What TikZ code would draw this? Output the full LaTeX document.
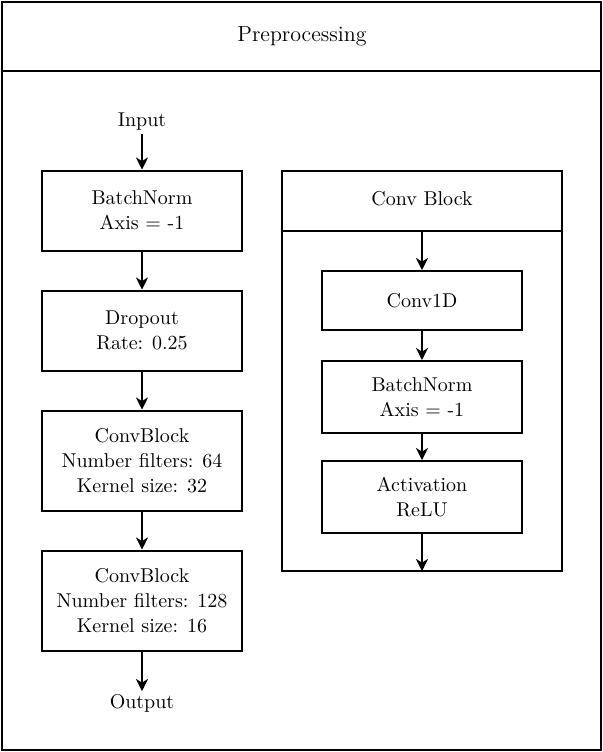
\documentclass[tikz,border=0pt]{standalone}
\usetikzlibrary{arrows.meta}

\begin{document}
\begin{tikzpicture}[x=0.5pt, y=-0.5pt, line width=1pt, >={Stealth[length=6pt,width=6pt,inset=1.8pt]},
    font=\fontsize{10}{12.5}\selectfont,
    block/.style={draw, align=center, minimum width=100pt, inner sep=0pt},
    label/.style={align=center, inner sep=1pt}]
            \useasboundingbox (0,0) rectangle (603,752);
            % outer frame
            \draw (2,2) rectangle (601,750);
            \draw (2,71) -- (601,71);
            \node[label, font=\fontsize{11}{13}\selectfont] (prep) at (302,36) {Preprocessing};
            % main pipeline
            \begin{scope}[every node/.style={block}]
            \node[minimum height=40pt] (bn1) at (142,210.5) {BatchNorm\\Axis = -1};
            \node[minimum height=40pt] (drop) at (142,330.5) {Dropout\\Rate: 0.25};
            \node[minimum height=50pt] (cb1) at (142,460.5) {ConvBlock\\Number filters: 64\\Kernel size: 32};
            \node[minimum height=50pt] (cb2) at (142,600.5) {ConvBlock\\Number filters: 128\\Kernel size: 16};
            \end{scope}
            \node[label] (in) at (142,122) {Input};
            \node[label] (out) at (142,703) {Output};
            \draw[->] (in) -- (bn1);
            \draw[->] (bn1) -- (drop);
            \draw[->] (drop) -- (cb1);
            \draw[->] (cb1) -- (cb2);
            \draw[->] (cb2) -- (out);
            % conv block detail
            \draw (282,171) rectangle (562,571);
            \draw (282,231) -- (562,231);
            \node[label] (cbtitle) at (422,199) {Conv Block};
            \coordinate (cbtop) at (422,231);
            \coordinate (cbbot) at (422,571);
            \begin{scope}[every node/.style={block}]
            \node[minimum height=29.5pt] (conv) at (422,300.5) {Conv1D};
            \node[minimum height=36pt] (bn2) at (422,397) {BatchNorm\\Axis = -1};
            \node[minimum height=36pt] (act) at (422,497) {Activation\\ReLU};
            \end{scope}
            \draw[->] (cbtop) -- (conv);
            \draw[->] (conv) -- (bn2);
            \draw[->] (bn2) -- (act);
            \draw[->] (act) -- (cbbot);
\end{tikzpicture}
\end{document}
